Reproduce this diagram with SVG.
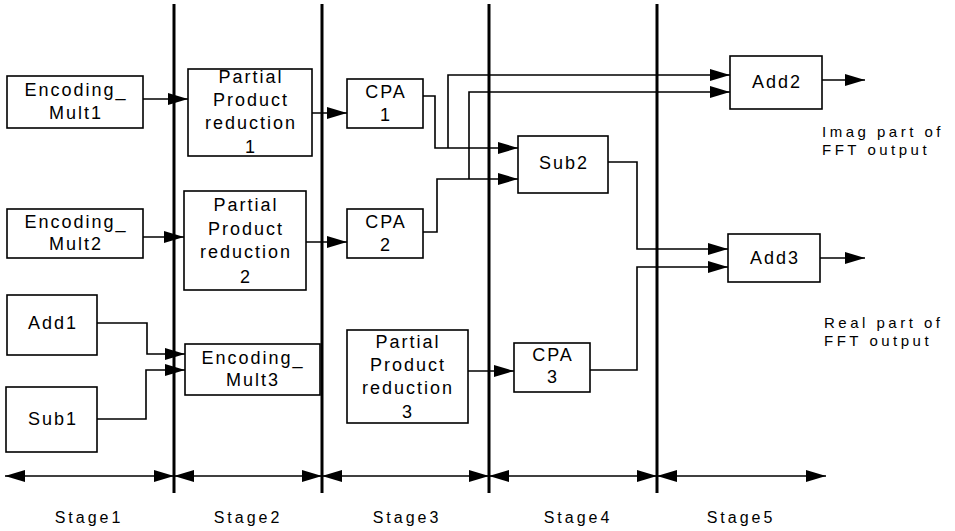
<svg xmlns="http://www.w3.org/2000/svg" width="955" height="531" viewBox="0 0 955 531">
<style>
.box{fill:#fff;stroke:#000;stroke-width:1.6}
.t{font-family:"Liberation Sans",Arial,sans-serif;font-size:18px;letter-spacing:2px;text-anchor:middle;fill:#000}
.lbl{font-family:"Liberation Sans",Arial,sans-serif;font-size:15px;letter-spacing:3.5px;fill:#000}
.stg{font-family:"Liberation Sans",Arial,sans-serif;font-size:16px;letter-spacing:3px;text-anchor:middle;fill:#000}
.c{fill:none;stroke:#000;stroke-width:1.6}
.v{stroke:#000;stroke-width:3}
</style>
<defs>
<marker id="ah" markerUnits="userSpaceOnUse" markerWidth="20" markerHeight="12" refX="20" refY="6" orient="auto-start-reverse">
<path d="M0,0 L20,6 L0,12 z" fill="#000"/>
</marker>
</defs>
<rect width="955" height="531" fill="#fff"/>
<g id="stage-lines">
<line class="v" x1="174" y1="4" x2="174" y2="493"/>
<line class="v" x1="322" y1="4" x2="322" y2="493"/>
<line class="v" x1="489" y1="4" x2="489" y2="493"/>
<line class="v" x1="657" y1="4" x2="657" y2="493"/>
</g>
<g id="connectors">
<path class="c" d="M143,99 H188" marker-end="url(#ah)"/>
<path class="c" d="M312,113 H347" marker-end="url(#ah)"/>
<path class="c" d="M143,237 H184" marker-end="url(#ah)"/>
<path class="c" d="M306,242 H347" marker-end="url(#ah)"/>
<path class="c" d="M97,323 H147 V354 H185" marker-end="url(#ah)"/>
<path class="c" d="M97,419 H146 V370 H185" marker-end="url(#ah)"/>
<path class="c" d="M468,371 H514" marker-end="url(#ah)"/>
<path class="c" d="M423,96 H435 V148 H518" marker-end="url(#ah)"/>
<path class="c" d="M448,148 V75 H730" marker-end="url(#ah)"/>
<path class="c" d="M423,232 H437 V179 H518" marker-end="url(#ah)"/>
<path class="c" d="M469,179 V92 H730" marker-end="url(#ah)"/>
<path class="c" d="M608,162 H637 V249 H728" marker-end="url(#ah)"/>
<path class="c" d="M590,370 H637 V267 H728" marker-end="url(#ah)"/>
<path class="c" d="M822,80 H865" marker-end="url(#ah)"/>
<path class="c" d="M820,258 H865" marker-end="url(#ah)"/>
<path class="c" d="M5,476 H174" marker-start="url(#ah)" marker-end="url(#ah)"/>
<path class="c" d="M174,476 H322" marker-start="url(#ah)" marker-end="url(#ah)"/>
<path class="c" d="M322,476 H489" marker-start="url(#ah)" marker-end="url(#ah)"/>
<path class="c" d="M489,476 H657" marker-start="url(#ah)" marker-end="url(#ah)"/>
<path class="c" d="M657,476 H826" marker-start="url(#ah)" marker-end="url(#ah)"/>
</g>
<g id="encoding-mult1">
<rect class="box" x="7" y="76" width="136" height="52"/>
<text class="t" x="76" y="96">Encoding_</text>
<text class="t" x="76" y="119">Mult1</text>
</g>
<g id="encoding-mult2">
<rect class="box" x="7" y="209" width="136" height="49"/>
<text class="t" x="76" y="228">Encoding_</text>
<text class="t" x="76" y="250">Mult2</text>
</g>
<g id="add1">
<rect class="box" x="7" y="295" width="90" height="60"/>
<text class="t" x="53" y="329">Add1</text>
</g>
<g id="sub1">
<rect class="box" x="6" y="387" width="91" height="65"/>
<text class="t" x="53" y="425">Sub1</text>
</g>
<g id="ppr1">
<rect class="box" x="188" y="69" width="124" height="87"/>
<text class="t" x="251" y="83">Partial</text>
<text class="t" x="251" y="106">Product</text>
<text class="t" x="251" y="129">reduction</text>
<text class="t" x="251" y="153">1</text>
</g>
<g id="ppr2">
<rect class="box" x="184" y="191" width="122" height="99"/>
<text class="t" x="246" y="211">Partial</text>
<text class="t" x="246" y="235">Product</text>
<text class="t" x="246" y="258">reduction</text>
<text class="t" x="246" y="283">2</text>
</g>
<g id="encoding-mult3">
<rect class="box" x="185" y="344" width="135" height="51"/>
<text class="t" x="253" y="364">Encoding_</text>
<text class="t" x="253" y="386">Mult3</text>
</g>
<g id="cpa1">
<rect class="box" x="347" y="79" width="76" height="49"/>
<text class="t" x="386" y="98">CPA</text>
<text class="t" x="386" y="121">1</text>
</g>
<g id="cpa2">
<rect class="box" x="347" y="209" width="76" height="49"/>
<text class="t" x="386" y="228">CPA</text>
<text class="t" x="386" y="251">2</text>
</g>
<g id="ppr3">
<rect class="box" x="347" y="330" width="121" height="93"/>
<text class="t" x="408" y="348">Partial</text>
<text class="t" x="408" y="371">Product</text>
<text class="t" x="408" y="394">reduction</text>
<text class="t" x="408" y="418">3</text>
</g>
<g id="sub2">
<rect class="box" x="518" y="136" width="90" height="57"/>
<text class="t" x="564" y="169">Sub2</text>
</g>
<g id="cpa3">
<rect class="box" x="514" y="343" width="76" height="49"/>
<text class="t" x="553" y="361">CPA</text>
<text class="t" x="553" y="383">3</text>
</g>
<g id="add2">
<rect class="box" x="730" y="56" width="92" height="53"/>
<text class="t" x="777" y="88">Add2</text>
</g>
<g id="add3">
<rect class="box" x="728" y="234" width="92" height="48"/>
<text class="t" x="775" y="264">Add3</text>
</g>
<g id="labels">
<text class="lbl" x="822" y="137">Imag part of</text>
<text class="lbl" x="822" y="155">FFT output</text>
<text class="lbl" x="824" y="328">Real part of</text>
<text class="lbl" x="824" y="346">FFT output</text>
<text class="stg" x="89" y="523">Stage1</text>
<text class="stg" x="248" y="523">Stage2</text>
<text class="stg" x="407" y="523">Stage3</text>
<text class="stg" x="578" y="523">Stage4</text>
<text class="stg" x="741" y="523">Stage5</text>
</g>
</svg>
